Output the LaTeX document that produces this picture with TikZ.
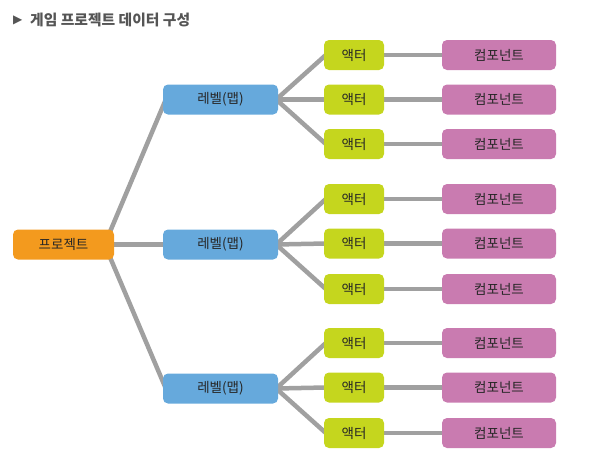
\documentclass[tikz,border=0pt]{standalone}
\usepackage{fontspec}
\usetikzlibrary{backgrounds}
\setmainfont{Noto Sans CJK KR}
\newfontfamily\symfont{DejaVu Sans}
\definecolor{cproj}{HTML}{F39A1E}
\definecolor{clevel}{HTML}{66A9DC}
\definecolor{cactor}{HTML}{C5D61E}
\definecolor{ccomp}{HTML}{C97BB0}
\definecolor{cline}{HTML}{A0A0A0}
\definecolor{ctitle}{HTML}{555555}
\tikzset{
  box/.style={rounded corners=5pt, inner sep=0pt, minimum height=30pt, font=\fontsize{13.5}{16}\selectfont, text=black!85},
  projbox/.style={box, fill=cproj, minimum width=101pt},
  levelbox/.style={box, fill=clevel, minimum width=115pt},
  actorbox/.style={box, fill=cactor, minimum width=60pt},
  compbox/.style={box, fill=ccomp, minimum width=114pt},
  conn/.style={draw=cline, line width=4.5pt},
}
\begin{document}
\begin{tikzpicture}[x=1pt,y=-1pt]
\useasboundingbox (0,0) rectangle (590,472);
\node[anchor=west, text=ctitle, inner sep=0pt, font=\symfont\fontsize{12}{14}\selectfont] (tri) at (13,20) {▶};
\node[anchor=west, text=ctitle, inner sep=0pt, font=\fontsize{14.8}{17}\selectfont\bfseries] (title) at (30,20) {게임 프로젝트 데이터 구성};
\node[projbox] (p) at (63.5,244.5) {프로젝트};
\foreach \i/\y in {1/99.5,2/244.5,3/388.5}{
  \node[levelbox] (l\i) at (220.5,\y) {레벨(맵)};
}
\foreach \j/\y in {1/55,2/99.5,3/144,4/199,5/243.5,6/289,7/343,8/387.5,9/433}{
  \node[actorbox] (a\j) at (354,\y) {액터};
  \node[compbox] (c\j) at (499,\y) {컴포넌트};
}
\begin{scope}[on background layer]
  \draw[conn] ([xshift=-4pt,yshift=-2pt]p.north east) -- ([xshift=3pt]l1.west);
  \draw[conn] (p.east) -- (l2.west);
  \draw[conn] ([xshift=-4pt,yshift=2pt]p.south east) -- ([xshift=3pt]l3.west);
  \foreach \i/\a/\b/\c in {1/1/2/3,2/4/5/6,3/7/8/9}{
    \draw[conn] ([xshift=-2pt]l\i.east) -- ([xshift=2pt]a\a.west);
    \draw[conn] ([xshift=-2pt]l\i.east) -- ([xshift=2pt]a\b.west);
    \draw[conn] ([xshift=-2pt]l\i.east) -- ([xshift=2pt]a\c.west);
  }
  \foreach \j in {1,...,9}{
    \draw[conn] (a\j.east) -- (c\j.west);
  }
\end{scope}
\end{tikzpicture}
\end{document}
